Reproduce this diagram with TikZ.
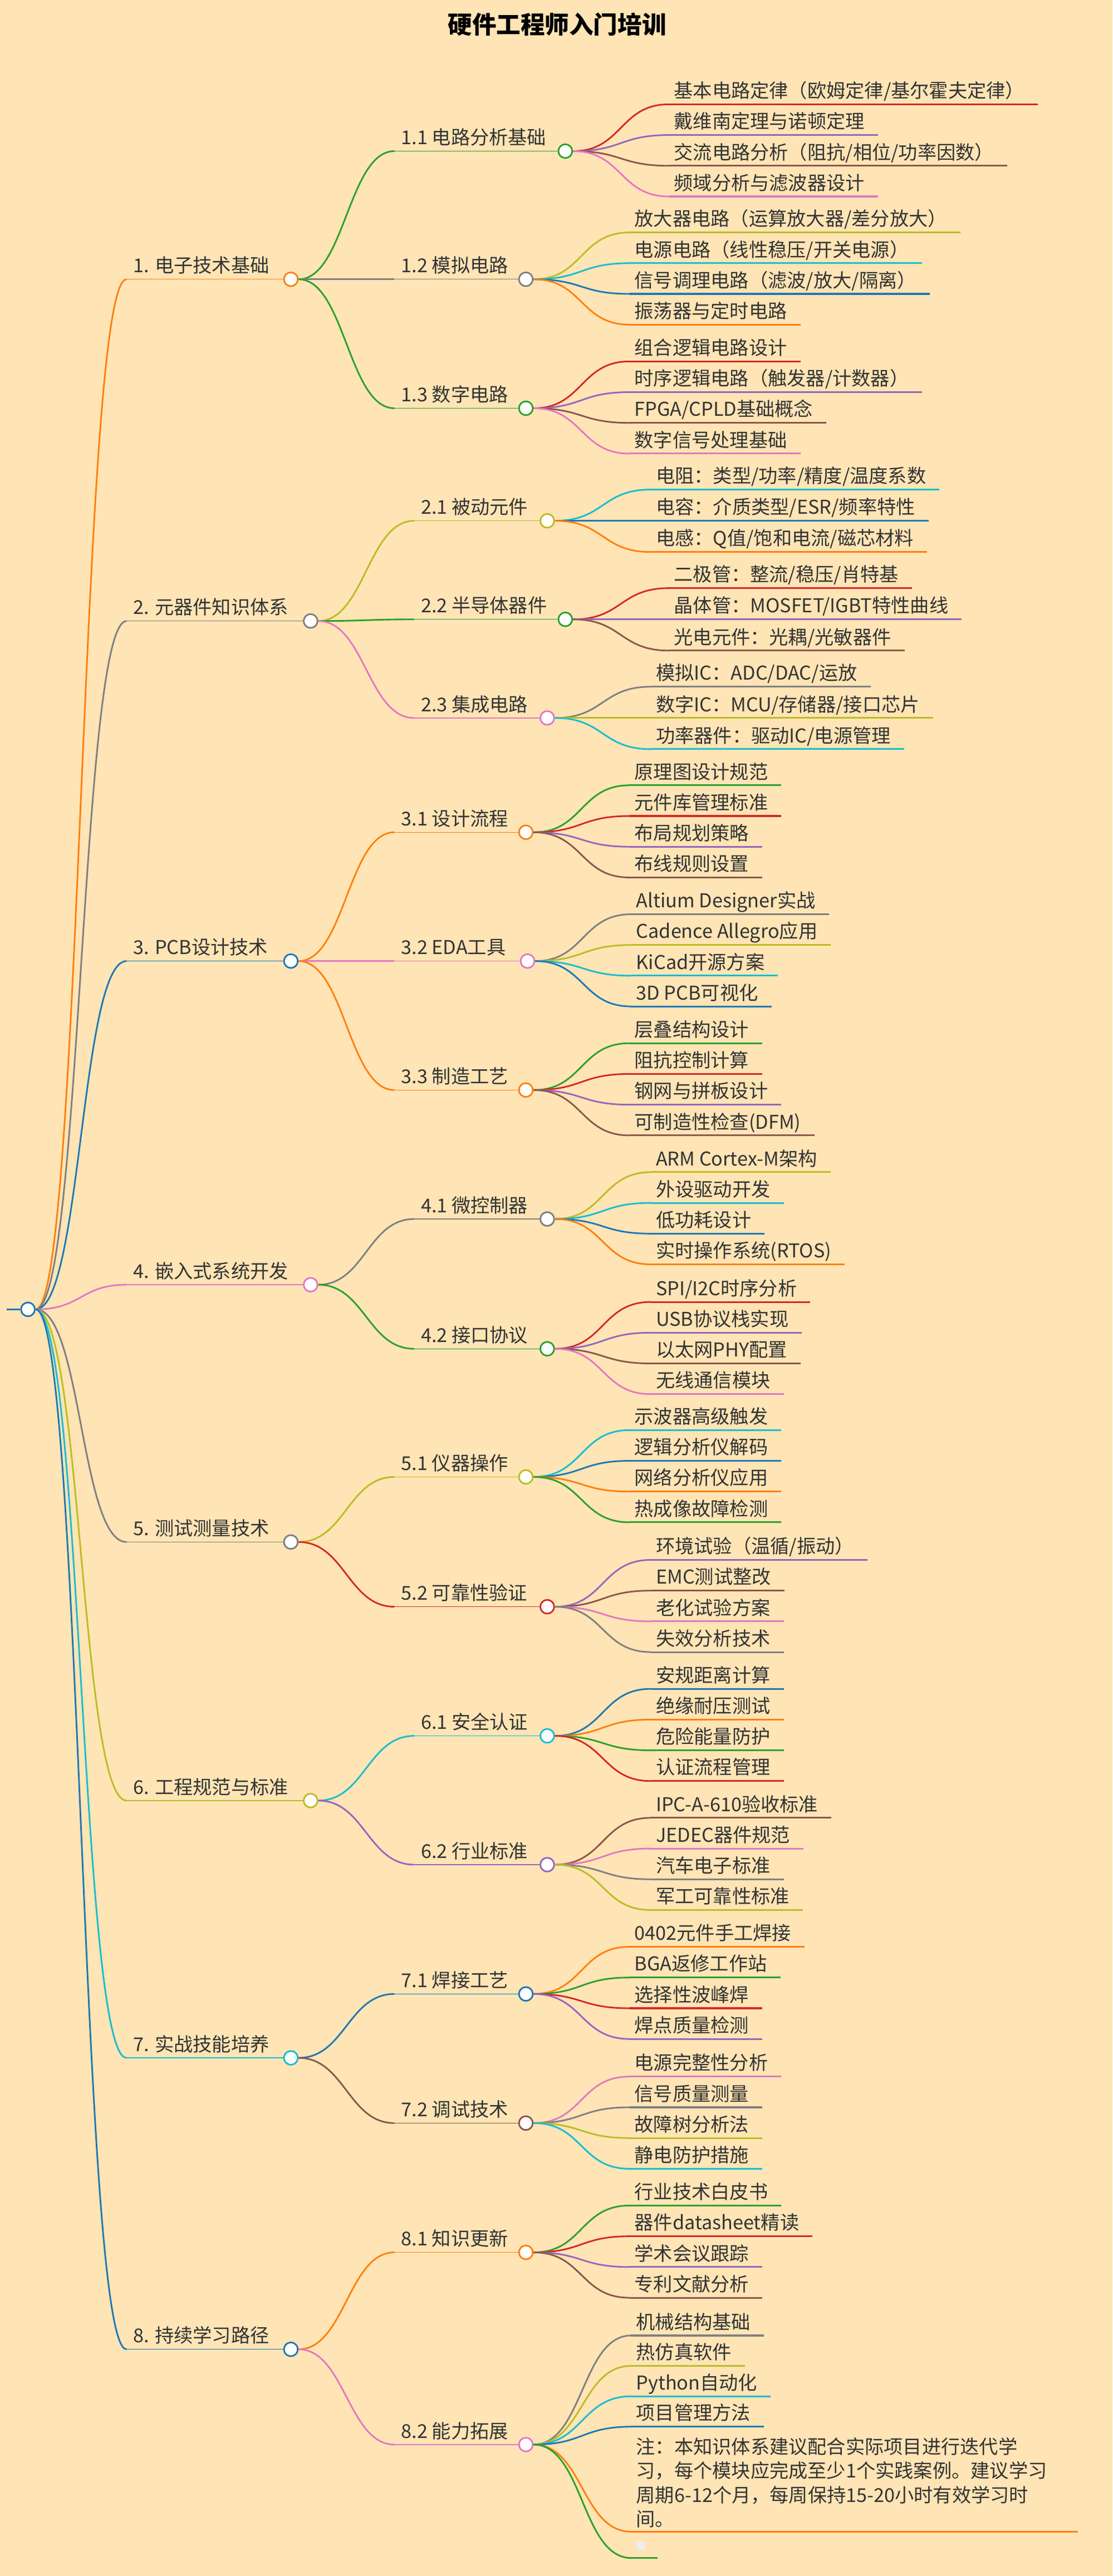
\documentclass[tikz,border=0pt]{standalone}
\usepackage{fontspec}
\setmainfont{Noto Sans CJK SC}
\usepackage{tikz}
\usetikzlibrary{positioning}

\definecolor{bgc}{HTML}{FFE4B5}
\definecolor{cblue}{HTML}{1F77B4}
\definecolor{corange}{HTML}{FF7F0E}
\definecolor{cgreen}{HTML}{2CA02C}
\definecolor{cred}{HTML}{D62728}
\definecolor{cpurple}{HTML}{9467BD}
\definecolor{cbrown}{HTML}{8C564B}
\definecolor{cpink}{HTML}{E377C2}
\definecolor{cgray}{HTML}{7F7F7F}
\definecolor{colive}{HTML}{BCBD22}
\definecolor{ccyan}{HTML}{17BECF}

\tikzset{
  txt/.style={inner sep=0pt, text=black!80, font=\fontsize{16.5pt}{20pt}\selectfont},
  dot/.style={circle, draw=#1, fill=white, line width=1.4pt, inner sep=0pt, minimum size=0.42cm},
  edge/.style={line width=1.4pt},
  uline/.style={line width=0.7pt},
  lline/.style={line width=1.5pt}
}

% a level node: name, parent, line start x, y, dot x, colour, text
\newcommand\branch[7]{%
  \coordinate (#1s) at (#3,#4);
  \node[txt, anchor=base west] (#1t) at (#3+4,#4-4) {#7};
  \node[dot=#6] (#1) at (#5,#4) {};
  \draw[edge,#6] (#2.east) .. controls +(28,0) and +(-28,0) .. (#1s);
  \draw[uline,#6] (#1s) -- (#1.west);
}

% leaves: parent, text x, first line y, step, list of {text}/colour
\newcommand\leafset[5]{%
  \foreach \lt/\lc [count=\i from 0] in {#5}{
    \coordinate (#1S\i) at (#2-3,{#3+#4*\i});
    \node[txt, anchor=base west] (#1L\i) at (#2,{#3+#4*\i-4}) {\lt};
    \draw[edge,\lc] (#1.east) .. controls +(30,0) and +(-30,0) .. (#1S\i);
    \draw[lline,\lc] (#1S\i) -- ([xshift=0.4cm]#1S\i -| #1L\i.east);
  }
}

\begin{document}
\begin{tikzpicture}[x=0.05cm, y=-0.05cm]
\fill[bgc] (0,0) rectangle (677,1568);

%Title
\node[txt, font=\fontsize{21pt}{24pt}\selectfont\bfseries, text=black] (title) at (339,15) {硬件工程师入门培训};

%Root
\coordinate (rin) at (4,797);
\node[dot=cblue] (root) at (17,797) {};
\draw[edge,cblue] (rin) -- (root.west);

%Level one
\branch{a1}{root}{77}{170}{177}{corange}{1. 电子技术基础}
\branch{a2}{root}{77}{378}{189}{cgray}{2. 元器件知识体系}
\branch{a3}{root}{77}{585}{177}{cblue}{3. PCB设计技术}
\branch{a4}{root}{77}{782}{189}{cpink}{4. 嵌入式系统开发}
\branch{a5}{root}{77}{938.6}{177}{cgray}{5. 测试测量技术}
\branch{a6}{root}{77}{1096}{189}{colive}{6. 工程规范与标准}
\branch{a7}{root}{77}{1252.6}{177}{ccyan}{7. 实战技能培养}
\branch{a8}{root}{77}{1430}{177}{cblue}{8. 持续学习路径}

%Level two
\branch{b11}{a1}{240}{92}{344}{cgreen}{1.1 电路分析基础}
\branch{b12}{a1}{240}{170}{320}{cgray}{1.2 模拟电路}
\branch{b13}{a1}{240}{248.5}{320}{cgreen}{1.3 数字电路}
\branch{b21}{a2}{252}{317}{333}{colive}{2.1 被动元件}
\branch{b22}{a2}{252}{377}{344}{cgreen}{2.2 半导体器件}
\branch{b23}{a2}{252}{437}{333}{cpink}{2.3 集成电路}
\branch{b31}{a3}{240}{506.6}{320}{corange}{3.1 设计流程}
\branch{b32}{a3}{240}{585}{321}{cpink}{3.2 EDA工具}
\branch{b33}{a3}{240}{663.5}{320}{corange}{3.3 制造工艺}
\branch{b41}{a4}{252}{742}{333}{cgray}{4.1 微控制器}
\branch{b42}{a4}{252}{821}{333}{cgreen}{4.2 接口协议}
\branch{b51}{a5}{240}{899}{320}{colive}{5.1 仪器操作}
\branch{b52}{a5}{240}{978}{333}{cred}{5.2 可靠性验证}
\branch{b61}{a6}{252}{1056.6}{333}{ccyan}{6.1 安全认证}
\branch{b62}{a6}{252}{1135}{333}{cpurple}{6.2 行业标准}
\branch{b71}{a7}{240}{1213.7}{320}{cblue}{7.1 焊接工艺}
\branch{b72}{a7}{240}{1292.3}{320}{cbrown}{7.2 调试技术}
\branch{b81}{a8}{240}{1371}{320}{corange}{8.1 知识更新}
\branch{b82}{a8}{240}{1488}{320}{cpink}{8.2 能力拓展}

%Leaves
\leafset{b11}{410}{63.5}{18.7}{{基本电路定律（欧姆定律/基尔霍夫定律）}/cred,{戴维南定理与诺顿定理}/cpurple,{交流电路分析（阻抗/相位/功率因数）}/cbrown,{频域分析与滤波器设计}/cpink}
\leafset{b12}{386}{141.5}{18.7}{{放大器电路（运算放大器/差分放大）}/colive,{电源电路（线性稳压/开关电源）}/ccyan,{信号调理电路（滤波/放大/隔离）}/cblue,{振荡器与定时电路}/corange}
\leafset{b13}{386}{220}{18.7}{{组合逻辑电路设计}/cred,{时序逻辑电路（触发器/计数器）}/cpurple,{FPGA/CPLD基础概念}/cbrown,{数字信号处理基础}/cpink}
\leafset{b21}{399}{298}{19}{{电阻：类型/功率/精度/温度系数}/ccyan,{电容：介质类型/ESR/频率特性}/cblue,{电感：Q值/饱和电流/磁芯材料}/corange}
\leafset{b22}{410}{358}{19}{{二极管：整流/稳压/肖特基}/cred,{晶体管：MOSFET/IGBT特性曲线}/cpurple,{光电元件：光耦/光敏器件}/cbrown}
\leafset{b23}{399}{418}{19}{{模拟IC：ADC/DAC/运放}/cgray,{数字IC：MCU/存储器/接口芯片}/colive,{功率器件：驱动IC/电源管理}/ccyan}
\leafset{b31}{386}{478}{18.7}{{原理图设计规范}/cgreen,{元件库管理标准}/cred,{布局规划策略}/cpurple,{布线规则设置}/cbrown}
\leafset{b32}{387}{556.5}{18.7}{{Altium Designer实战}/cgray,{Cadence Allegro应用}/colive,{KiCad开源方案}/ccyan,{3D PCB可视化}/cblue}
\leafset{b33}{386}{635}{18.7}{{层叠结构设计}/cgreen,{阻抗控制计算}/cred,{钢网与拼板设计}/cpurple,{可制造性检查(DFM)}/cbrown}
\leafset{b41}{399}{713.5}{18.7}{{ARM Cortex-M架构}/colive,{外设驱动开发}/ccyan,{低功耗设计}/cblue,{实时操作系统(RTOS)}/corange}
\leafset{b42}{399}{792.5}{18.7}{{SPI/I2C时序分析}/cred,{USB协议栈实现}/cpurple,{以太网PHY配置}/cbrown,{无线通信模块}/cpink}
\leafset{b51}{386}{870.5}{18.7}{{示波器高级触发}/ccyan,{逻辑分析仪解码}/cblue,{网络分析仪应用}/corange,{热成像故障检测}/cgreen}
\leafset{b52}{399}{949.5}{18.7}{{环境试验（温循/振动）}/cpurple,{EMC测试整改}/cbrown,{老化试验方案}/cpink,{失效分析技术}/cgray}
\leafset{b61}{399}{1028}{18.7}{{安规距离计算}/cblue,{绝缘耐压测试}/corange,{危险能量防护}/cgreen,{认证流程管理}/cred}
\leafset{b62}{399}{1106.5}{18.7}{{IPC-A-610验收标准}/cbrown,{JEDEC器件规范}/cpink,{汽车电子标准}/cgray,{军工可靠性标准}/colive}
\leafset{b71}{386}{1185}{18.7}{{0402元件手工焊接}/corange,{BGA返修工作站}/cgreen,{选择性波峰焊}/cred,{焊点质量检测}/cpurple}
\leafset{b72}{386}{1264}{18.7}{{电源完整性分析}/cpink,{信号质量测量}/cgray,{故障树分析法}/colive,{静电防护措施}/ccyan}
\leafset{b81}{386}{1342.5}{18.7}{{行业技术白皮书}/cgreen,{器件datasheet精读}/cred,{学术会议跟踪}/cpurple,{专利文献分析}/cbrown}
\leafset{b82}{387}{1421.6}{18.5}{{机械结构基础}/cgray,{热仿真软件}/colive,{Python自动化}/ccyan,{项目管理方法}/cblue}

%Note and empty leaf
\coordinate (noteS) at (384,1541);
\node[txt, anchor=south west, inner ysep=3pt, align=left, font=\fontsize{16.5pt}{21pt}\selectfont] (note) at (387,1541)
  {注：本知识体系建议配合实际项目进行迭代学\\习，每个模块应完成至少1个实践案例。建议学习\\周期6-12个月，每周保持15-20小时有效学习时\\间。};
\draw[edge,corange] (b82.east) .. controls +(30,0) and +(-30,0) .. (noteS);
\draw[lline,corange] (noteS) -- (656,1541);
\coordinate (blankS) at (384,1557);
\node[fill=black!7, rounded corners=1pt, minimum width=0.25cm, minimum height=0.25cm, inner sep=0pt] (blank) at (390,1549.5) {};
\draw[edge,cgreen] (b82.east) .. controls +(30,0) and +(-30,0) .. (blankS);
\draw[lline,cgreen] (blankS) -- (400,1557);

\end{tikzpicture}
\end{document}
